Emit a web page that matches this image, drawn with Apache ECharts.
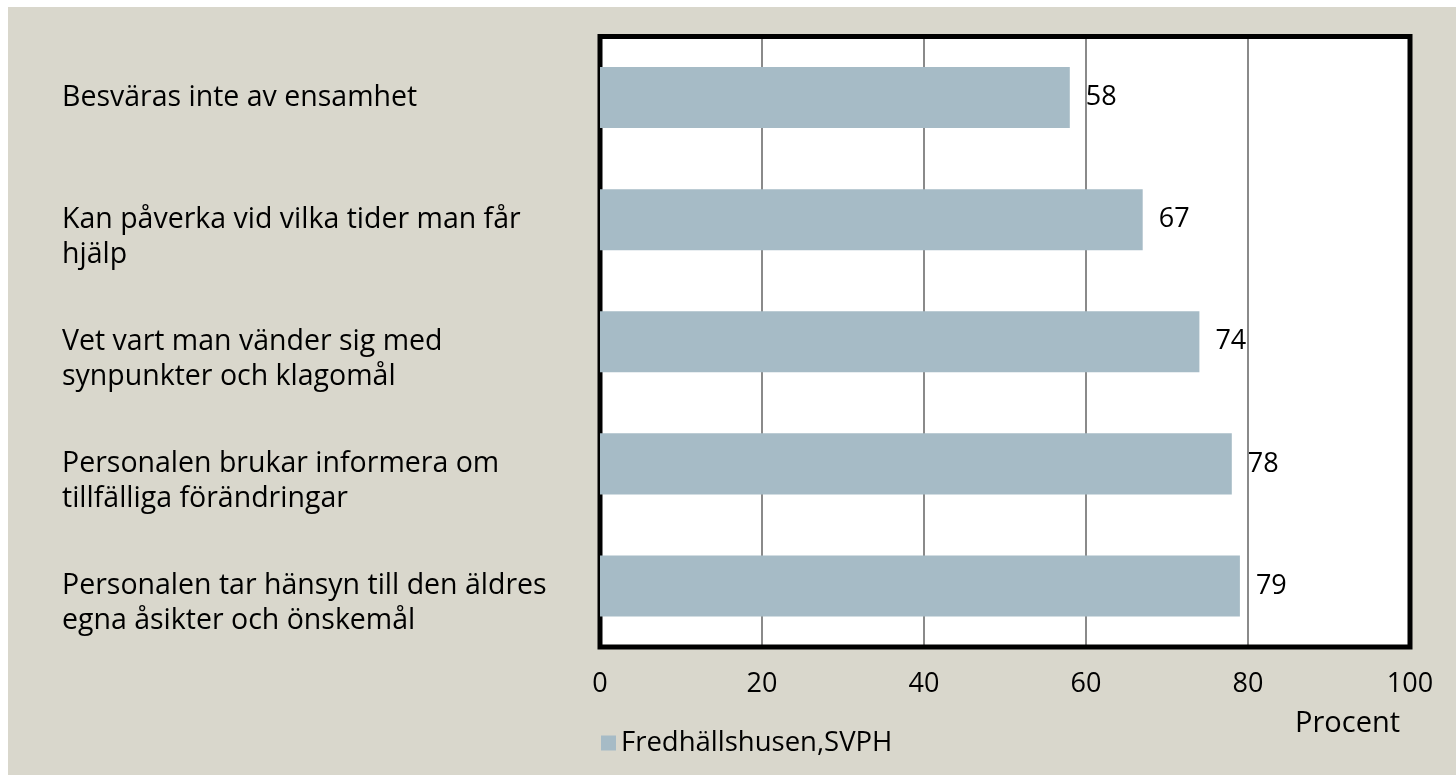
<!DOCTYPE html>
<html>
<head>
<meta charset="utf-8">
<script src="https://cdn.jsdelivr.net/npm/echarts@6/dist/echarts.min.js"></script>
<style>
  html, body { margin: 0; padding: 0; background: #ffffff; }
  #chart { position: absolute; left: 8px; top: 7px; width: 1448px; height: 768px; }
</style>
</head>
<body>
<div id="chart"></div>
<script>
const categories = [
  "Besväras inte av ensamhet",
  "Kan påverka vid vilka tider man får\nhjälp",
  "Vet vart man vänder sig med\nsynpunkter och klagomål",
  "Personalen brukar informera om\ntillfälliga förändringar",
  "Personalen tar hänsyn till den äldres\negna åsikter och önskemål"
];
const seriesName = "Fredhällshusen,SVPH";
const values = [58, 67, 74, 78, 79];
const axisTitle = "Procent";

const FONT = "'Open Sans', sans-serif";
const G = { left: 592, top: 29.5, width: 810, height: 610.5 };
const chart = echarts.init(document.getElementById('chart'));
chart.setOption({
  backgroundColor: '#d9d7cc',
  animation: false,
  textStyle: { fontFamily: FONT, color: '#000' },
  title: {
    text: axisTitle,
    left: 1282,
    top: 697,
    textStyle: { fontFamily: FONT, fontSize: 29, fontWeight: 'normal', color: '#000' }
  },
  legend: {
    data: [seriesName],
    left: 588,
    top: 717,
    icon: 'rect',
    itemWidth: 15,
    itemHeight: 15,
    textStyle: { fontFamily: FONT, fontSize: 27.5, color: '#000' }
  },
  grid: {
    left: G.left,
    top: G.top,
    width: G.width,
    height: G.height,
    show: true,
    backgroundColor: '#ffffff',
    borderWidth: 0,
    containLabel: false
  },
  graphic: [{
    type: 'rect',
    z: 1,
    silent: true,
    shape: { x: G.left, y: G.top, width: G.width, height: G.height },
    style: { fill: 'none', stroke: '#000000', lineWidth: 5 }
  }],
  xAxis: {
    type: 'value',
    min: 0,
    max: 100,
    interval: 20,
    axisLine: { show: false },
    axisTick: { show: false },
    splitLine: { show: true, lineStyle: { color: '#8a8a8a', width: 2 } },
    axisLabel: { fontFamily: FONT, fontSize: 27, color: '#000', margin: 24 }
  },
  yAxis: {
    type: 'category',
    data: categories,
    inverse: true,
    axisLine: { show: false },
    axisTick: { show: false },
    axisLabel: {
      fontFamily: FONT,
      fontSize: 28.5,
      lineHeight: 35,
      color: '#000',
      align: 'left',
      margin: 538,
      formatter: v => v.indexOf('\n') >= 0 ? '\n' + v : v
    }
  },
  series: [{
    name: seriesName,
    type: 'bar',
    z: 3,
    data: values,
    barWidth: '50%',
    itemStyle: { color: '#a6bbc6' },
    label: {
      show: true,
      position: 'right',
      distance: 16,
      fontFamily: FONT,
      fontSize: 27,
      color: '#000'
    }
  }]
});
</script>
</body>
</html>
